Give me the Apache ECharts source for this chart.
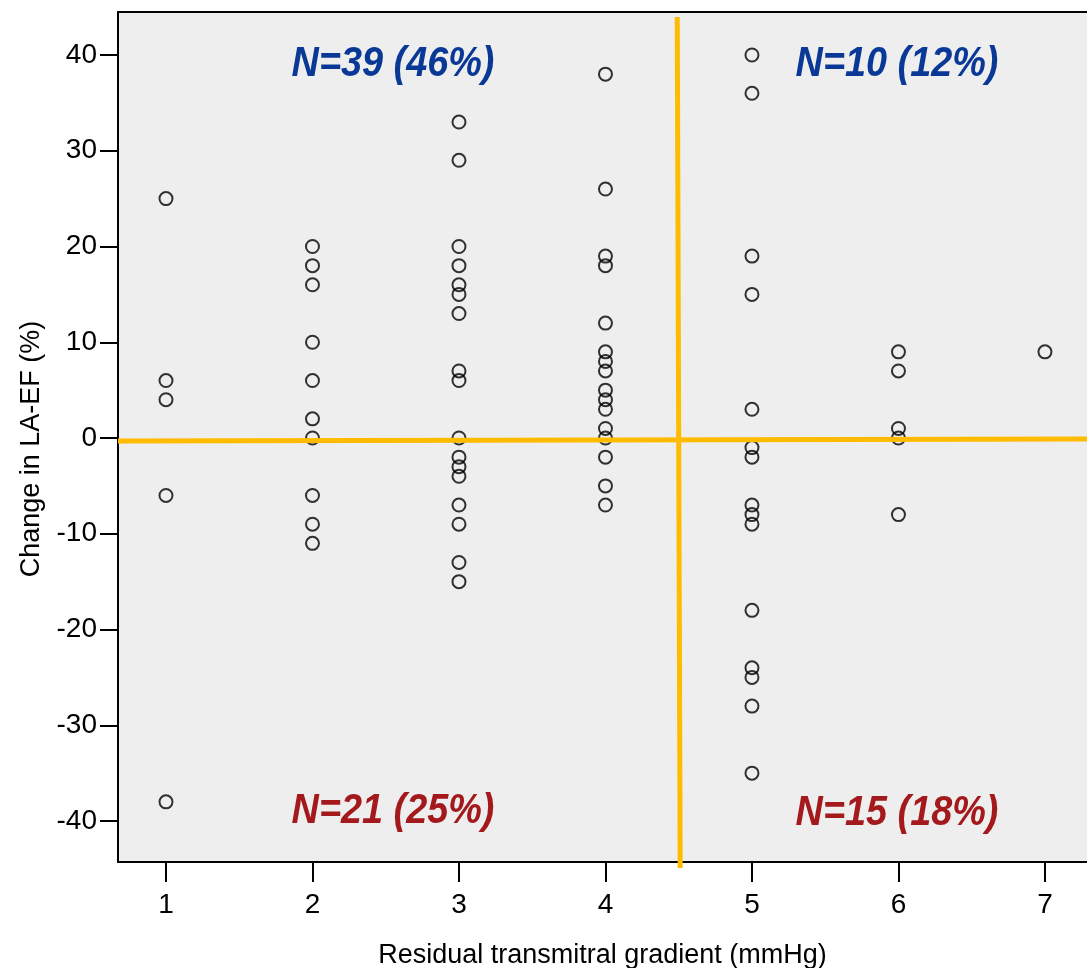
<!DOCTYPE html>
<html>
<head>
<meta charset="utf-8">
<style>
  html, body { margin: 0; padding: 0; background: #fff; }
  #main { width: 1087px; height: 968px; }
</style>
<script src="https://cdn.jsdelivr.net/npm/echarts@6/dist/echarts.min.js"></script>
</head>
<body>
<div id="main"></div>
<script>
var chartDom = document.getElementById('main');
var myChart = echarts.init(chartDom);
var option;

var gradients = [1, 2, 3, 4, 5, 6, 7];
var changeAt1 = [25, 6, 4, -6, -38];
var changeAt2 = [20, 18, 16, 10, 6, 2, 0, -6, -9, -11];
var changeAt3 = [33, 29, 20, 18, 16, 15, 13, 7, 6, 0, -2, -3, -4, -7, -9, -13, -15];
var changeAt4 = [38, 26, 19, 18, 12, 9, 8, 7, 5, 4, 3, 1, 0, -2, -5, -7];
var changeAt5 = [40, 36, 19, 15, 3, -1, -2, -7, -8, -9, -18, -24, -25, -28, -35];
var changeAt6 = [9, 7, 1, 0, -8];
var changeAt7 = [9];

var xTicks = [1, 2, 3, 4, 5, 6, 7];
var yTicks = [-40, -30, -20, -10, 0, 10, 20, 30, 40];

// quadrant cut-offs
var cutGradient = 4.5;
var cutChange = -0.2;

var quadrantLabels = ['N=39 (46%)', 'N=10 (12%)', 'N=21 (25%)', 'N=15 (18%)'];

var xMin = 0.6724, xMax = 7.287;
var yMin = -44.28, yMax = 44.49;

var groups = [changeAt1, changeAt2, changeAt3, changeAt4, changeAt5, changeAt6, changeAt7];
var points = [];
groups.forEach(function (vals, i) {
    vals.forEach(function (v) {
        points.push([gradients[i], v]);
    });
});

var axisFont = {
    fontFamily: 'Liberation Sans, Arial, sans-serif',
    fontSize: 27,
    color: '#000'
};
var tickFont = {
    fontFamily: 'Liberation Sans, Arial, sans-serif',
    fontSize: 28,
    color: '#000'
};

function quadText(text, x, y, color) {
    return {
        type: 'text',
        x: x,
        y: y,
        scaleX: 0.9,
        z: 100,
        style: {
            text: text,
            x: 0,
            y: 0,
            fill: color,
            font: 'italic bold 42px "Liberation Sans", Arial, sans-serif',
            align: 'center',
            verticalAlign: 'middle',
            textAlign: 'center',
            textVerticalAlign: 'middle'
        }
    };
}

option = {
    animation: false,
    backgroundColor: '#fff',
    grid: {
        left: 118,
        right: 0,
        top: 12,
        bottom: 106,
        outerBoundsMode: 'none',
        containLabel: false,
        show: true,
        backgroundColor: '#eeeeee',
        borderWidth: 0
    },
    xAxis: [
        {
            type: 'value',
            min: xMin,
            max: xMax,
            name: 'Residual transmitral gradient (mmHg)',
            nameLocation: 'middle',
            nameGap: 80,
            nameTextStyle: Object.assign({ padding: [0, 0, 0, 0] }, axisFont),
            splitLine: { show: false },
            axisLine: { show: true, onZero: false, lineStyle: { color: '#000', width: 2 } },
            axisTick: { show: true, length: 20, customValues: xTicks, lineStyle: { color: '#000', width: 2 } },
            axisLabel: Object.assign({ margin: 29, customValues: xTicks }, tickFont)
        },
        {
            // top frame line only
            type: 'value',
            position: 'top',
            min: xMin,
            max: xMax,
            splitLine: { show: false },
            axisLine: { show: true, onZero: false, lineStyle: { color: '#000', width: 2 } },
            axisTick: { show: false },
            axisLabel: { show: false }
        }
    ],
    yAxis: {
        type: 'value',
        min: yMin,
        max: yMax,
        name: 'Change in LA-EF (%)',
        nameLocation: 'middle',
        nameRotate: 90,
        nameGap: 73,
        nameTextStyle: Object.assign({ padding: [0, 24, 0, 0] }, axisFont),
        splitLine: { show: false },
        axisLine: { show: true, onZero: false, lineStyle: { color: '#000', width: 2 } },
        axisTick: { show: true, length: 18, customValues: yTicks, lineStyle: { color: '#000', width: 2 } },
        axisLabel: Object.assign({ margin: 21, padding: [5, 0, 0, 0], customValues: yTicks }, tickFont)
    },
    series: [
        {
            type: 'scatter',
            data: points,
            symbol: 'circle',
            symbolSize: 13,
            itemStyle: {
                color: 'transparent',
                borderColor: '#000',
                borderWidth: 2
            },
            z: 2
        },
        {
            type: 'line',
            data: [[xMin, cutChange - 0.1], [xMax, cutChange + 0.1]],
            symbol: 'none',
            clip: false,
            lineStyle: { color: '#ffbb00', width: 5 },
            z: 5
        },
        {
            type: 'line',
            data: [[cutGradient - 0.01, 43.97], [cutGradient + 0.01, -44.9]],
            symbol: 'none',
            clip: false,
            lineStyle: { color: '#ffbb00', width: 5 },
            z: 5
        }
    ],
    graphic: [
        quadText(quadrantLabels[0], 393, 64, '#0a3896'),
        quadText(quadrantLabels[1], 897, 64, '#0a3896'),
        quadText(quadrantLabels[2], 393, 811, '#a3191c'),
        quadText(quadrantLabels[3], 897, 813, '#a3191c')
    ]
};

option && myChart.setOption(option);
</script>
</body>
</html>
